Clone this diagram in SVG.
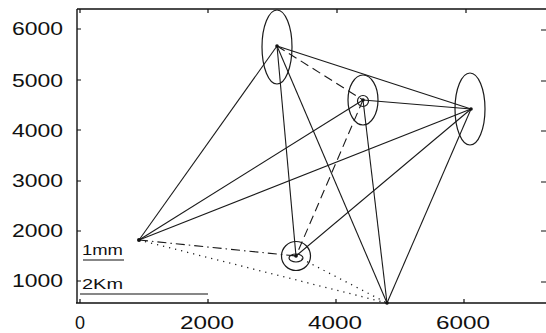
<svg xmlns="http://www.w3.org/2000/svg" width="546" height="333" viewBox="0 0 546 333">
<style>
.ax{stroke:#111;stroke-width:1.4;fill:none}
.tk{stroke:#111;stroke-width:1.2}
.ln{stroke:#1a1a1a;stroke-width:1.1;fill:none}
.dash{stroke-dasharray:9 5}
.dashdot{stroke-dasharray:9 4 1.5 4}
.dot{stroke-dasharray:1.2 5;stroke-width:1.3}
.el{stroke:#1a1a1a;stroke-width:1.2;fill:none}
.lbl{font-family:"Liberation Sans",Arial,sans-serif;font-size:18px;fill:#111}
.sm{font-family:"Liberation Sans",Arial,sans-serif;font-size:15px;fill:#111}
</style>
<rect width="546" height="333" fill="#fff"/>
<g id="axes">
<path class="ax" d="M77,9 H546 M77,9 V303 M76,303 H546"/>
<path class="tk" d="M77,29 h4 M77,80 h4 M77,130 h4 M77,181 h4 M77,231 h4 M77,281 h4 M546,30 h-5 M546,81 h-5 M546,131 h-5 M546,182 h-5 M546,231 h-5 M546,282 h-5 M80,303 v-4 M208,303 v-4 M336,303 v-4 M464,303 v-4 M80,9 v4 M208,9 v4 M337,9 v4 M466,9 v4"/>
<g class="lbl" text-anchor="end">
<text x="63" y="35" textLength="51" lengthAdjust="spacingAndGlyphs">6000</text>
<text x="63" y="87" textLength="51" lengthAdjust="spacingAndGlyphs">5000</text>
<text x="63" y="137" textLength="51" lengthAdjust="spacingAndGlyphs">4000</text>
<text x="63" y="187" textLength="51" lengthAdjust="spacingAndGlyphs">3000</text>
<text x="63" y="237" textLength="51" lengthAdjust="spacingAndGlyphs">2000</text>
<text x="63" y="287" textLength="51" lengthAdjust="spacingAndGlyphs">1000</text>
</g>
<g class="lbl" text-anchor="middle">
<text x="80" y="329">0</text>
<text x="207" y="329" textLength="54" lengthAdjust="spacingAndGlyphs">2000</text>
<text x="335" y="329" textLength="54" lengthAdjust="spacingAndGlyphs">4000</text>
<text x="463" y="329" textLength="54" lengthAdjust="spacingAndGlyphs">6000</text>
</g>
</g>
<g id="scale">
<text class="sm" x="82" y="255" textLength="41" lengthAdjust="spacingAndGlyphs">1mm</text>
<path class="tk" d="M83,260 H124"/>
<text class="sm" x="82" y="289" textLength="41" lengthAdjust="spacingAndGlyphs">2Km</text>
<path class="tk" d="M80,294 H208"/>
</g>
<g id="connectors">
<path class="ln" d="M277,46 L471,109"/>
<path class="ln" d="M277,46 L139,240"/>
<path class="ln" d="M277,46 L296,256"/>
<path class="ln" d="M277,46 L387,303"/>
<path class="ln" d="M363,100 L387,303"/>
<path class="ln" d="M363,100 L471,109"/>
<path class="ln" d="M363,100 L139,240"/>
<path class="ln" d="M471,109 L139,240"/>
<path class="ln" d="M471,109 L296,256"/>
<path class="ln" d="M471,109 L387,303"/>
<path class="ln dash" d="M277,46 L363,100"/>
<path class="ln dash" d="M363,100 L296,256"/>
<path class="ln dashdot" d="M139,240 L296,256"/>
<path class="ln dot" d="M139,240 L387,303"/>
<path class="ln dot" d="M296,256 L387,303"/>
</g>
<g id="node-top">
<ellipse class="el" cx="277" cy="47" rx="15" ry="37"/>
<circle cx="277" cy="46" r="1.8" fill="#111"/>
</g>
<g id="node-mid">
<ellipse class="el" cx="363" cy="100" rx="15" ry="25"/>
<circle class="el" cx="363" cy="101" r="5.5"/>
<circle cx="363" cy="100" r="1.8" fill="#111"/>
</g>
<g id="node-right">
<ellipse class="el" cx="470" cy="109" rx="15" ry="36"/>
<circle cx="471" cy="109" r="1.8" fill="#111"/>
</g>
<g id="node-left">
<circle cx="139" cy="240" r="2" fill="#111"/>
</g>
<g id="node-bottom-mid">
<circle class="el" cx="296" cy="256" r="14.5"/>
<ellipse class="el" cx="296" cy="258" rx="7" ry="4"/>
<circle cx="296" cy="256" r="1.8" fill="#111"/>
</g>
<g id="node-bottom">
<circle cx="387" cy="303" r="1.8" fill="#111"/>
</g>
</svg>
